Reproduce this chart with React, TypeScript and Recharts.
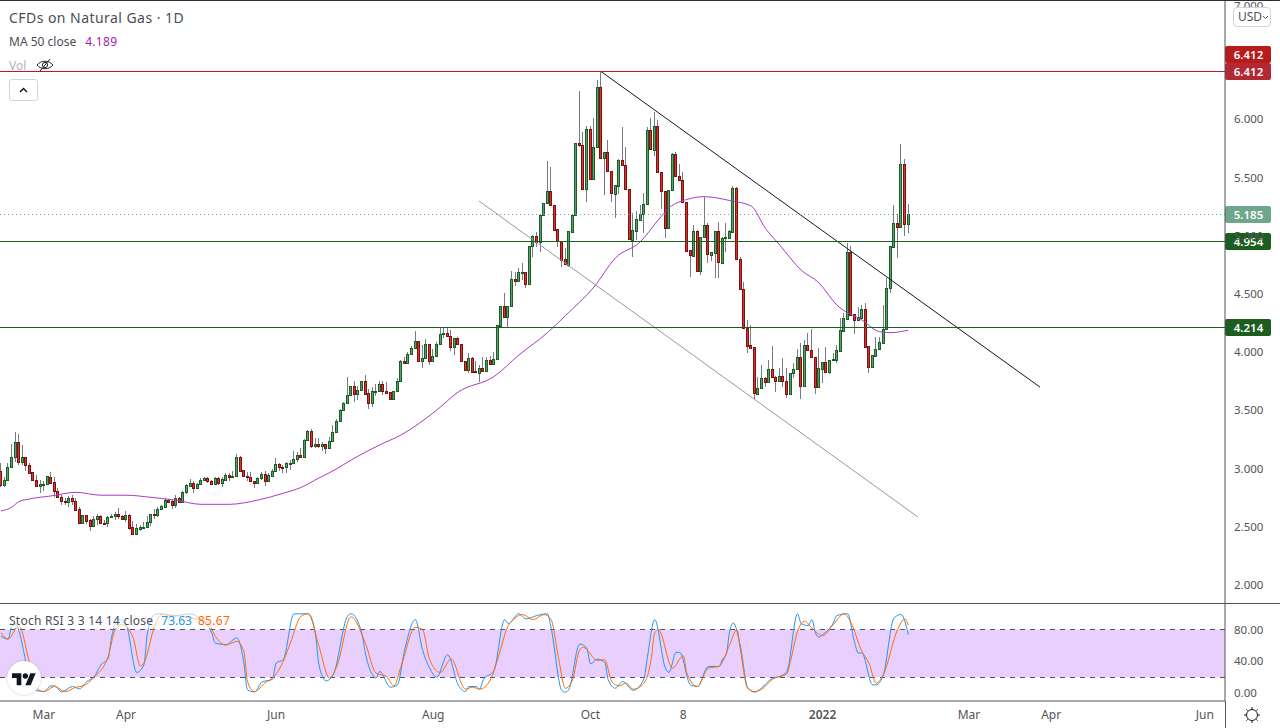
import React from "react"
import { Bar, ComposedChart, Line, ReferenceArea, ReferenceLine, XAxis, YAxis } from "recharts"

// daily candles, oldest first
const opens = [
  2.98, 2.86, 2.90, 3.01, 3.10, 3.23, 3.06, 3.10, 3.03, 2.97,
  2.90, 2.85, 2.86, 2.865, 2.93, 2.885, 2.81, 2.76, 2.72, 2.71,
  2.745, 2.72, 2.65, 2.53, 2.60, 2.555, 2.51, 2.57, 2.59, 2.53,
  2.53, 2.58, 2.59, 2.61, 2.59, 2.57, 2.60, 2.495, 2.44, 2.485,
  2.495, 2.50, 2.54, 2.61, 2.605, 2.65, 2.67, 2.73, 2.72, 2.69,
  2.745, 2.715, 2.80, 2.85, 2.875, 2.83, 2.865, 2.90, 2.915, 2.89,
  2.87, 2.915, 2.88, 2.905, 2.945, 2.93, 2.94, 3.10, 2.99, 2.94,
  2.93, 2.89, 2.88, 2.915, 2.95, 2.89, 2.94, 2.975, 3.04, 3.015,
  3.01, 3.045, 3.045, 3.08, 3.12, 3.10, 3.245, 3.32, 3.19, 3.215,
  3.19, 3.21, 3.18, 3.24, 3.31, 3.405, 3.50, 3.56, 3.63, 3.71,
  3.64, 3.675, 3.75, 3.65, 3.56, 3.665, 3.665, 3.73, 3.67, 3.655,
  3.60, 3.67, 3.755, 3.92, 3.91, 3.987, 4.04, 4.096, 3.927, 3.947,
  4.067, 3.927, 3.964, 4.067, 4.16, 4.168, 4.14, 4.047, 4.12, 4.067,
  3.92, 3.85, 3.947, 3.835, 3.825, 3.86, 3.84, 3.933, 3.90, 3.94,
  4.225, 4.40, 4.30, 4.394, 4.626, 4.615, 4.683, 4.686, 4.59, 4.912,
  4.998, 4.947, 5.178, 5.279, 5.382, 5.262, 5.055, 4.952, 4.798, 4.752,
  5.035, 5.176, 5.794, 5.777, 5.399, 5.915, 5.491, 5.76, 6.276, 5.671,
  5.717, 5.56, 5.359, 5.43, 5.648, 5.611, 5.399, 4.964, 5.044, 5.138,
  5.184, 5.27, 5.906, 5.737, 5.94, 5.545, 5.382, 5.064, 5.39, 5.70,
  5.516, 5.482, 5.293, 4.875, 4.829, 5.038, 4.695, 4.987, 5.09, 4.838,
  4.855, 5.038, 4.769, 4.978, 4.984, 5.035, 5.41, 4.803, 4.54, 4.205,
  4.059, 4.042, 3.644, 3.689, 3.775, 3.747, 3.853, 3.79, 3.755, 3.793,
  3.755, 3.644, 3.818, 3.853, 3.956, 3.712, 4.059, 4.016, 3.961, 3.704,
  3.858, 3.913, 3.833, 3.933, 3.933, 4.013, 4.185, 4.288, 4.861, 4.325,
  4.279, 4.294, 4.368, 4.053, 3.87, 3.97, 4.024, 4.082, 4.196, 4.549,
  4.906, 5.107, 5.073, 5.617, 5.104,
]
const closes = [
  2.86, 2.90, 3.01, 3.10, 3.23, 3.06, 3.10, 3.03, 2.96, 2.90,
  2.85, 2.87, 2.865, 2.94, 2.88, 2.81, 2.76, 2.72, 2.71, 2.745,
  2.72, 2.645, 2.53, 2.60, 2.55, 2.51, 2.57, 2.59, 2.53, 2.525,
  2.58, 2.59, 2.61, 2.59, 2.57, 2.60, 2.49, 2.44, 2.49, 2.50,
  2.50, 2.54, 2.61, 2.605, 2.65, 2.675, 2.73, 2.715, 2.69, 2.745,
  2.715, 2.80, 2.86, 2.875, 2.83, 2.865, 2.90, 2.915, 2.89, 2.87,
  2.915, 2.88, 2.91, 2.945, 2.93, 2.94, 3.10, 2.98, 2.94, 2.93,
  2.89, 2.88, 2.915, 2.95, 2.89, 2.945, 2.98, 3.04, 3.01, 3.01,
  3.05, 3.05, 3.08, 3.12, 3.10, 3.245, 3.32, 3.19, 3.215, 3.19,
  3.21, 3.18, 3.24, 3.31, 3.405, 3.50, 3.56, 3.63, 3.71, 3.64,
  3.675, 3.75, 3.645, 3.56, 3.665, 3.67, 3.73, 3.67, 3.65, 3.60,
  3.67, 3.755, 3.92, 3.91, 3.987, 4.04, 4.096, 3.927, 3.947, 4.067,
  3.927, 3.964, 4.067, 4.16, 4.168, 4.14, 4.047, 4.12, 4.067, 3.92,
  3.85, 3.947, 3.833, 3.827, 3.86, 3.84, 3.933, 3.90, 3.94, 4.23,
  4.40, 4.30, 4.394, 4.626, 4.615, 4.686, 4.69, 4.59, 4.912, 4.998,
  4.944, 5.178, 5.279, 5.382, 5.262, 5.05, 4.952, 4.792, 4.755, 5.038,
  5.176, 5.794, 5.777, 5.399, 5.915, 5.491, 5.76, 6.276, 5.671, 5.717,
  5.56, 5.365, 5.433, 5.648, 5.611, 5.399, 4.97, 5.047, 5.141, 5.184,
  5.27, 5.906, 5.743, 5.94, 5.545, 5.382, 5.064, 5.39, 5.70, 5.516,
  5.482, 5.293, 4.872, 4.832, 5.038, 4.70, 4.987, 5.09, 4.841, 4.858,
  5.038, 4.772, 4.978, 4.987, 5.038, 5.41, 4.803, 4.54, 4.205, 4.056,
  4.039, 3.646, 3.689, 3.775, 3.747, 3.853, 3.79, 3.755, 3.793, 3.755,
  3.644, 3.818, 3.853, 3.956, 3.712, 4.059, 4.016, 3.961, 3.704, 3.864,
  3.913, 3.833, 3.933, 3.941, 4.019, 4.188, 4.291, 4.861, 4.322, 4.279,
  4.299, 4.368, 4.047, 3.87, 3.973, 4.024, 4.087, 4.196, 4.549, 4.91,
  5.107, 5.073, 5.617, 5.104, 5.185,
]
const highs = [
  3.05, 2.93, 3.05, 3.21, 3.31, 3.30, 3.20, 3.10, 3.05, 2.97,
  2.945, 2.90, 2.89, 2.94, 2.97, 2.93, 2.83, 2.77, 2.75, 2.765,
  2.77, 2.745, 2.67, 2.60, 2.60, 2.57, 2.59, 2.61, 2.60, 2.56,
  2.59, 2.61, 2.63, 2.66, 2.60, 2.635, 2.61, 2.55, 2.52, 2.515,
  2.54, 2.59, 2.61, 2.65, 2.67, 2.69, 2.745, 2.735, 2.73, 2.77,
  2.76, 2.81, 2.87, 2.91, 2.89, 2.88, 2.915, 2.93, 2.93, 2.90,
  2.93, 2.93, 2.93, 2.96, 2.965, 2.975, 3.125, 3.11, 2.99, 2.97,
  2.97, 2.89, 2.93, 2.97, 2.98, 2.96, 3.00, 3.095, 3.05, 3.03,
  3.06, 3.07, 3.15, 3.14, 3.175, 3.25, 3.33, 3.34, 3.26, 3.26,
  3.23, 3.21, 3.27, 3.375, 3.43, 3.51, 3.57, 3.785, 3.71, 3.75,
  3.71, 3.75, 3.80, 3.68, 3.70, 3.725, 3.75, 3.75, 3.74, 3.655,
  3.67, 3.775, 3.93, 3.955, 4.00, 4.05, 4.18, 4.096, 4.06, 4.11,
  4.067, 4.03, 4.085, 4.213, 4.213, 4.205, 4.19, 4.125, 4.13, 4.067,
  3.92, 3.99, 3.96, 3.92, 3.89, 3.96, 3.96, 3.967, 4.005, 4.237,
  4.40, 4.505, 4.397, 4.695, 4.69, 4.72, 4.763, 4.69, 4.912, 5.007,
  5.035, 5.178, 5.279, 5.643, 5.591, 5.262, 5.055, 4.952, 4.892, 5.038,
  5.176, 5.80, 6.244, 5.895, 5.943, 5.943, 6.009, 6.339, 6.41, 5.717,
  5.823, 5.56, 5.433, 5.657, 5.938, 5.766, 5.399, 5.199, 5.216, 5.264,
  5.365, 5.932, 6.009, 6.066, 5.995, 5.545, 5.382, 5.39, 5.708, 5.717,
  5.614, 5.551, 5.293, 4.875, 5.093, 5.05, 4.992, 5.336, 5.107, 4.861,
  5.038, 5.121, 4.992, 5.107, 5.05, 5.428, 5.422, 4.815, 4.603, 4.276,
  4.233, 4.047, 3.784, 3.89, 3.79, 3.933, 4.053, 3.795, 3.861, 3.947,
  3.861, 3.818, 3.904, 4.024, 4.076, 4.105, 4.162, 4.196, 3.961, 4.033,
  3.913, 4.042, 3.933, 3.99, 4.062, 4.291, 4.334, 4.941, 4.912, 4.325,
  4.391, 4.405, 4.425, 4.053, 3.973, 4.133, 4.133, 4.405, 4.634, 4.91,
  5.264, 5.187, 5.789, 5.657, 5.273,
]
const lows = [
  2.84, 2.84, 2.90, 3.01, 3.06, 3.03, 3.03, 2.98, 2.95, 2.90,
  2.84, 2.79, 2.81, 2.86, 2.87, 2.76, 2.75, 2.69, 2.69, 2.67,
  2.69, 2.64, 2.52, 2.52, 2.52, 2.46, 2.50, 2.515, 2.53, 2.52,
  2.50, 2.58, 2.56, 2.57, 2.56, 2.54, 2.47, 2.44, 2.44, 2.465,
  2.49, 2.495, 2.51, 2.57, 2.58, 2.645, 2.67, 2.71, 2.65, 2.66,
  2.71, 2.70, 2.78, 2.85, 2.79, 2.83, 2.86, 2.89, 2.875, 2.86,
  2.865, 2.86, 2.845, 2.90, 2.89, 2.915, 2.935, 2.98, 2.93, 2.89,
  2.885, 2.835, 2.875, 2.90, 2.85, 2.885, 2.935, 2.975, 2.975, 2.965,
  2.965, 2.99, 3.045, 3.06, 3.10, 3.10, 3.24, 3.18, 3.175, 3.175,
  3.15, 3.125, 3.18, 3.24, 3.31, 3.40, 3.50, 3.555, 3.63, 3.575,
  3.585, 3.67, 3.64, 3.51, 3.525, 3.62, 3.66, 3.63, 3.645, 3.60,
  3.585, 3.67, 3.745, 3.90, 3.90, 3.985, 4.04, 3.925, 3.86, 3.94,
  3.89, 3.925, 3.96, 4.06, 4.12, 4.133, 4.01, 3.975, 4.06, 3.915,
  3.85, 3.82, 3.825, 3.82, 3.74, 3.84, 3.84, 3.895, 3.90, 3.933,
  4.22, 4.29, 4.213, 4.39, 4.57, 4.61, 4.62, 4.555, 4.583, 4.82,
  4.906, 4.864, 5.178, 5.279, 5.262, 5.05, 4.906, 4.735, 4.75, 4.735,
  5.035, 5.173, 5.766, 5.393, 5.293, 5.485, 5.485, 5.76, 5.665, 5.35,
  5.56, 5.293, 5.15, 5.359, 5.608, 5.399, 4.964, 4.815, 4.964, 5.136,
  5.021, 5.264, 5.737, 5.685, 5.542, 5.233, 4.978, 5.061, 5.388, 5.514,
  5.479, 5.287, 4.864, 4.643, 4.821, 4.695, 4.663, 4.984, 4.763, 4.786,
  4.634, 4.634, 4.769, 4.864, 4.978, 5.032, 4.798, 4.534, 4.205, 3.996,
  4.033, 3.595, 3.632, 3.686, 3.698, 3.747, 3.784, 3.661, 3.752, 3.704,
  3.603, 3.638, 3.775, 3.847, 3.595, 3.709, 4.013, 3.956, 3.64, 3.698,
  3.738, 3.824, 3.81, 3.93, 3.904, 4.01, 4.185, 4.285, 4.317, 4.156,
  4.276, 4.291, 4.047, 3.818, 3.867, 3.967, 4.019, 4.076, 4.19, 4.506,
  4.901, 4.812, 5.07, 4.998, 5.027,
]

// MA 50, read at the candles in maBars
const maBars = [0, 3, 5, 8, 14, 21, 28, 35, 42, 49, 56, 64, 72, 79, 84, 89, 92, 100, 106, 112, 122, 128, 138, 145, 153, 158, 166, 172, 179, 184, 187, 192, 197, 204, 210, 214, 218, 224, 229, 234, 241, 246, 249, 254]
const maValues = [2.636, 2.668, 2.716, 2.739, 2.765, 2.796, 2.771, 2.771, 2.753, 2.728, 2.693, 2.693, 2.73, 2.788, 2.838, 2.919, 2.965, 3.108, 3.203, 3.289, 3.503, 3.658, 3.79, 3.976, 4.168, 4.314, 4.56, 4.809, 4.949, 5.136, 5.239, 5.312, 5.336, 5.303, 5.256, 5.064, 4.921, 4.706, 4.595, 4.405, 4.277, 4.176, 4.168, 4.189]

// Stoch RSI lines, read at their turning points
const kBars = [0, 2, 3, 4, 7, 8, 10, 12, 14, 15, 17, 20, 22, 24, 26, 28, 30, 31, 33, 35, 38, 40, 41, 43, 45, 48, 53, 56, 59, 60, 63, 66, 68, 69, 71, 73, 76, 77, 79, 82, 86, 88, 89, 91, 93, 97, 98, 101, 102, 104, 105, 106, 109, 111, 113, 116, 118, 120, 122, 125, 128, 130, 131, 133, 134, 135, 138, 141, 142, 145, 147, 150, 153, 154, 157, 158, 159, 162, 164, 165, 167, 169, 170, 172, 174, 177, 180, 181, 183, 186, 187, 189, 190, 193, 195, 198, 201, 202, 203, 204, 205, 207, 209, 211, 212, 216, 218, 220, 223, 224, 226, 227, 228, 229, 230, 233, 234, 237, 239, 240, 241, 244, 245, 247, 250, 252, 254]
const kValues = [71.5, 68.1, 84.2, 86.3, 37.7, 12.4, 3.1, 1.8, 9, 9, 1.4, 8.2, 5.2, 14.5, 20, 35.6, 44, 71.5, 92.6, 86.3, 25.9, 35.6, 75.8, 99, 100, 96.9, 99.8, 92.6, 75.8, 63, 61, 69.4, 37.7, 3.9, 1.4, 13.6, 17.4, 37.7, 42, 99.8, 100, 75.8, 35.6, 15.3, 23, 96.9, 100, 75.8, 50.4, 23, 18.7, 27.2, 7.3, 10.3, 54.6, 92.6, 54.6, 31.4, 20, 48.3, 10.3, 1.8, 8.2, 8.2, 4.8, 16.6, 28.4, 92.6, 87.6, 100, 93.5, 97.7, 100, 82, 3.1, 1, 4.8, 61.8, 56.7, 36.9, 42.8, 38.6, 16.6, 6, 14.5, 3.5, 17.9, 46.2, 92.6, 31.4, 25.9, 51.2, 51.2, 10.3, 8.2, 33.5, 33.5, 42.8, 48.3, 77.9, 88.4, 58.9, 7.3, 1, 3.1, 18.7, 20.8, 27.2, 100, 87.6, 85, 92.6, 75.8, 70.3, 73.6, 88.4, 97.7, 100, 63, 50.4, 50.4, 10.3, 10.3, 23, 94.8, 99, 73.63]
const dBars = [0, 2, 5, 8, 10, 12, 15, 18, 21, 23, 26, 30, 32, 34, 37, 39, 40, 43, 45, 49, 53, 58, 60, 63, 66, 68, 69, 71, 74, 76, 79, 81, 84, 86, 89, 92, 94, 98, 102, 105, 108, 110, 112, 116, 118, 120, 123, 126, 130, 132, 134, 137, 139, 142, 143, 146, 149, 152, 154, 156, 158, 160, 162, 163, 167, 169, 171, 173, 175, 177, 180, 182, 183, 184, 188, 191, 192, 195, 198, 201, 204, 206, 207, 209, 211, 213, 216, 220, 221, 223, 225, 227, 230, 233, 236, 238, 241, 243, 245, 247, 251, 253, 254]
const dValues = [75.8, 68.1, 85, 37.7, 6, 1.8, 8.2, 1.8, 7.3, 9, 19.6, 46.2, 80, 86.3, 69.4, 34.3, 37.7, 84.2, 99, 97.7, 94.8, 88.4, 71.5, 60.5, 65.2, 52.5, 14.5, 1.8, 13.2, 18.7, 39.8, 63, 96.9, 100, 58.9, 18.7, 33.5, 96, 63, 25, 20.8, 9, 33.5, 82.9, 80, 42, 25.9, 42.8, 4.8, 7.3, 4.8, 16.6, 42, 85, 90.5, 99, 92.6, 99, 92.6, 46.2, 6, 16.6, 54.6, 57.6, 41.1, 42, 14.5, 9, 12.4, 4.8, 12.4, 42, 75.8, 80, 31.4, 47, 25, 8.2, 31.4, 33.5, 61, 80, 54.6, 6, 1.8, 4.8, 17.4, 24.2, 39.8, 77.9, 90.5, 82, 72.4, 86.3, 100, 88.4, 52.5, 37.7, 12.4, 23, 80, 93.5, 85.67]

// bottom axis
const tickBars = [12, 35, 77, 121, 165, 191, 230, 271, 294, 337]
const tickLabels = ["Mar", "Apr", "Jun", "Aug", "Oct", "8", "2022", "Mar", "Apr", "Jun"]
const priceTicks = [2, 2.5, 3, 3.5, 4, 4.5, 5, 5.5, 6, 7]
const stochTicks = [0, 40, 80]

const rows = opens.map((open, i) => {
  const ma = maBars.indexOf(i)
  const k = kBars.indexOf(i)
  const d = dBars.indexOf(i)
  return {
    i,
    open,
    close: closes[i],
    range: [lows[i], highs[i]],
    ma: ma >= 0 ? maValues[ma] : null,
    k: k >= 0 ? kValues[k] : null,
    d: d >= 0 ? dValues[d] : null,
  }
})

const FONT = "'Noto Sans', sans-serif"
const X_DOMAIN = [-0.28, 342.66]
const AXIS_COLOR = "#50535e"
const TEXT_COLOR = "#555"

const Candle = (props: any) => {
  const { x, y, width, height, payload } = props
  const low = payload.range[0]
  const high = payload.range[1]
  const perUnit = height / (high - low)
  const cx = Math.floor(x + width / 2) + 0.5
  const yOpen = y + (high - payload.open) * perUnit
  const yClose = y + (high - payload.close) * perUnit
  const up = payload.close >= payload.open
  const top = Math.round(Math.min(yOpen, yClose)) + 0.5
  const bottom = Math.max(Math.round(Math.max(yOpen, yClose)) + 0.5, top + 1)
  return (
    <g>
      <line x1={cx} x2={cx} y1={Math.round(y)} y2={Math.round(y + height)} stroke="#787b86" />
      <rect
        x={cx - 1}
        y={top}
        width={2}
        height={bottom - top}
        fill={up ? "#53a17c" : "#d8342b"}
        stroke={up ? "#1b5e20" : "#801010"}
      />
    </g>
  )
}

// keeps horizontal levels on one pixel row
const CrispLine = (props: any) => {
  const y = Math.floor(props.y1 ?? props.y ?? 0) + 0.5
  return <line x1={props.x1} x2={props.x2} y1={y} y2={y} stroke={props.stroke} strokeDasharray={props.strokeDasharray} />
}

// price tag sitting on the right scale
const priceTag = (text: string, color: string, shift = 0) => (props: any) => {
  const { viewBox } = props
  const y = Math.floor(viewBox.y) + 0.5 + shift
  return (
    <g>
      <rect x={viewBox.x + viewBox.width} y={y - 8.5} width={46} height={17} rx={2} fill={color} />
      <text x={viewBox.x + viewBox.width + 23.5} y={y + 4} textAnchor="middle" fontSize={11.5} fontWeight={600} fontFamily={FONT} fill="#fff">
        {text}
      </text>
    </g>
  )
}

const TimeTick = (props: any) => {
  const { x, y, payload } = props
  const label = tickLabels[tickBars.indexOf(payload.value)]
  return (
    <text x={x} y={y + 10} textAnchor="middle" fontSize={12} fontFamily={FONT} fontWeight={label === "2022" ? 600 : 400} fill={TEXT_COLOR}>
      {label}
    </text>
  )
}

const Overlay = () => (
  <>
    <div style={{ position: "absolute", left: 0, top: 0, width: 1280, height: 1, background: "#2a2e39" }} />
    <div style={{ position: "absolute", left: 0, top: 603, width: 1280, height: 1, background: AXIS_COLOR }} />
    <div style={{ position: "absolute", left: 1225, top: 701, width: 1, height: 27, background: AXIS_COLOR }} />
    <div style={{ position: "absolute", left: 9, top: 8, fontSize: 14, lineHeight: "19px", letterSpacing: 0.45, color: "#4a4d57" }}>CFDs on Natural Gas · 1D</div>
    <div style={{ position: "absolute", left: 9, top: 33, fontSize: 12, lineHeight: "17px", color: "#4a4d57" }}>
      MA 50 close<span style={{ color: "#9c27b0", marginLeft: 9, letterSpacing: 0.3 }}>4.189</span>
    </div>
    <div style={{ position: "absolute", left: 9, top: 57, fontSize: 12, lineHeight: "17px", color: "#b2b5be" }}>Vol</div>
    <svg style={{ position: "absolute", left: 36, top: 57 }} width={18} height={16} viewBox="0 0 18 16">
      <path d="M1 8 C5 3 13 3 17 8 C13 13 5 13 1 8 Z" fill="none" stroke="#222" />
      <circle cx={9} cy={8} r={2.6} fill="none" stroke="#222" />
      <path d="M4 14 L14 2" stroke="#222" />
    </svg>
    <div style={{ position: "absolute", left: 9, top: 79, width: 27, height: 20, border: "1px solid #d1d4dc", borderRadius: 3, background: "#fff" }}>
      <svg style={{ position: "absolute", left: 8, top: 6 }} width={11} height={8} viewBox="0 0 11 8">
        <path d="M2 6 L5.5 2.5 L9 6" fill="none" stroke="#131722" strokeWidth={1.5} />
      </svg>
    </div>
    <div style={{ position: "absolute", left: 1233, top: 7, width: 32, height: 18, border: "1px solid #d1d4dc", borderRadius: 4, background: "#fff", fontSize: 12, lineHeight: "18px", color: "#555", paddingLeft: 4, boxSizing: "content-box", whiteSpace: "nowrap" }}>
      USD
      <svg style={{ position: "absolute", left: 28, top: 7 }} width={7} height={5} viewBox="0 0 7 5">
        <path d="M1 1 L3.5 3.5 L6 1" fill="none" stroke="#555" />
      </svg>
    </div>
    <div style={{ position: "absolute", left: 9, top: 613, fontSize: 12, lineHeight: "15px", color: "#4a4d57", background: "rgba(255,255,255,0.6)", whiteSpace: "nowrap" }}>
      <span style={{ letterSpacing: 0.25 }}>Stoch RSI 3 3 14 14 close</span>
      <span style={{ color: "#2196f3", marginLeft: 8 }}>73.63</span>
      <span style={{ color: "#ff6d00", marginLeft: 6, letterSpacing: 0.3 }}>85.67</span>
    </div>
    <div style={{ position: "absolute", left: 7, top: 661, width: 34, height: 34, borderRadius: "50%", background: "#fff", boxShadow: "0 0 2px rgba(0,0,0,0.25)" }}>
      <svg style={{ position: "absolute", left: 5, top: 8 }} width={24} height={22} viewBox="0 0 36 28">
        <path d="M14 22H7V11H0V4h14v18zM28 22h-8l7.5-18h8L28 22z" fill="#131722" />
        <circle cx={20} cy={8} r={4} fill="#131722" />
      </svg>
    </div>
    <svg style={{ position: "absolute", left: 1243, top: 706 }} width={18} height={18} viewBox="0 0 18 18">
      <circle cx={9} cy={9} r={5.5} fill="none" stroke="#131722" />
      <path d="M9 1v2M9 15v2M1 9h2M15 9h2M3.3 3.3l1.4 1.4M13.3 13.3l1.4 1.4M3.3 14.7l1.4-1.4M13.3 4.7l1.4-1.4" stroke="#131722" />
    </svg>
  </>
)

export default function App() {
  return (
    <div style={{ position: "absolute", left: 0, top: 0, width: 1280, height: 728, overflow: "hidden", background: "#fff", fontFamily: FONT }}>
      <div style={{ position: "absolute", left: 0, top: 0 }}>
        <ComposedChart width={1280} height={603} data={rows} margin={{ top: 0, right: 0, bottom: 0, left: 0 }}>
          <XAxis dataKey="i" type="number" domain={X_DOMAIN} hide allowDataOverflow />
          <YAxis
            orientation="right"
            width={55}
            domain={[1.845, 7.026]}
            ticks={priceTicks}
            allowDataOverflow
            tickFormatter={(v: number) => v.toFixed(3)}
            tick={{ fontSize: 11.5, fontFamily: FONT, fill: TEXT_COLOR }}
            tickLine={false}
            tickMargin={3}
            axisLine={{ stroke: AXIS_COLOR }}
          />
          <Bar dataKey="range" barSize={3} shape={Candle} isAnimationActive={false} />
          <Line dataKey="ma" type="monotone" connectNulls dot={false} stroke="#a83cc0" strokeWidth={1} isAnimationActive={false} />
          <ReferenceLine segment={[{ x: 167.97, y: 6.412 }, { x: 290.87, y: 3.7 }]} stroke="#131722" />
          <ReferenceLine segment={[{ x: 133.8, y: 5.299 }, { x: 256.7, y: 2.584 }]} stroke="#9598a1" />
          <ReferenceLine y={5.185} stroke="#6ba583" strokeDasharray="1 3" shape={CrispLine} label={priceTag("5.185", "#6ea78a")} />
          <ReferenceLine y={6.412} stroke="#b71c1c" shape={CrispLine} label={priceTag("6.412", "#b71c1c", -17)} />
          <ReferenceLine y={6.412} stroke="#b71c1c" shape={CrispLine} label={priceTag("6.412", "#b22833")} />
          <ReferenceLine y={4.954} stroke="#1b5e20" shape={CrispLine} label={priceTag("4.954", "#1b5e20")} />
          <ReferenceLine y={4.214} stroke="#1b5e20" shape={CrispLine} label={priceTag("4.214", "#1b5e20")} />
        </ComposedChart>
      </div>
      <div style={{ position: "absolute", left: 0, top: 604 }}>
        <ComposedChart width={1280} height={124} data={rows} margin={{ top: 0, right: 0, bottom: 0, left: 0 }}>
          <XAxis
            dataKey="i"
            type="number"
            domain={X_DOMAIN}
            ticks={tickBars}
            height={27}
            allowDataOverflow
            interval={0}
            tick={TimeTick}
            tickLine={false}
            axisLine={{ stroke: AXIS_COLOR }}
          />
          <YAxis
            orientation="right"
            width={55}
            domain={[-10.1, 112.3]}
            ticks={stochTicks}
            allowDataOverflow
            tickFormatter={(v: number) => v.toFixed(2)}
            tick={{ fontSize: 11.5, fontFamily: FONT, fill: TEXT_COLOR }}
            tickLine={false}
            tickMargin={3}
            axisLine={{ stroke: AXIS_COLOR }}
          />
          <ReferenceArea y1={20} y2={80} fill="#e9cffd" fillOpacity={1} stroke="none" />
          <ReferenceLine y={80} stroke={AXIS_COLOR} strokeDasharray="5 5" shape={CrispLine} />
          <ReferenceLine y={20} stroke={AXIS_COLOR} strokeDasharray="5 5" shape={CrispLine} />
          <Line dataKey="k" type="monotone" connectNulls dot={false} stroke="#2196f3" strokeWidth={1} isAnimationActive={false} />
          <Line dataKey="d" type="monotone" connectNulls dot={false} stroke="#ff6d00" strokeWidth={1} isAnimationActive={false} />
        </ComposedChart>
      </div>
      <Overlay />
    </div>
  )
}
